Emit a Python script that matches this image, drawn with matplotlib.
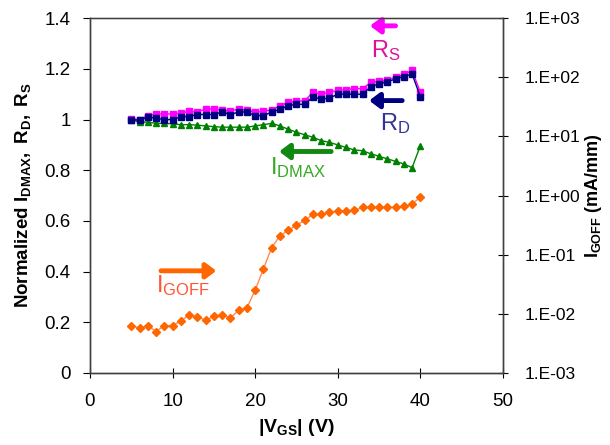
import numpy as np
import matplotlib
matplotlib.use("Agg")
import matplotlib.pyplot as plt
from matplotlib.ticker import FixedLocator, FuncFormatter, NullLocator

plt.rcParams['font.family'] = ['Liberation Sans', 'DejaVu Sans']
plt.rcParams['mathtext.fontset'] = 'custom'
plt.rcParams['mathtext.rm'] = 'Liberation Sans'
plt.rcParams['mathtext.bf'] = 'Liberation Sans:bold'
plt.rcParams['mathtext.it'] = 'Liberation Sans'

# gate voltage |VGS| (V)
vgs = list(range(5, 41))

# normalized source resistance
rs = [1.003, 1.0, 1.016, 1.022, 1.022, 1.022, 1.025, 1.033, 1.03, 1.042, 1.042, 1.038,
      1.033, 1.042, 1.038, 1.028, 1.033, 1.038, 1.055, 1.068, 1.072, 1.075, 1.108, 1.10,
      1.108, 1.115, 1.118, 1.122, 1.122, 1.147, 1.151, 1.157, 1.167, 1.178, 1.194, 1.108]
# normalized drain resistance
rd = [1.0, 0.997, 1.01, 1.005, 1.0, 1.0, 1.01, 1.012, 1.02, 1.02, 1.02, 1.03,
      1.02, 1.03, 1.03, 1.015, 1.015, 1.03, 1.04, 1.055, 1.06, 1.06, 1.09, 1.08,
      1.085, 1.10, 1.10, 1.10, 1.10, 1.13, 1.14, 1.15, 1.16, 1.17, 1.18, 1.09]
# normalized max drain current
idmax = [1.0, 0.99, 0.99, 0.985, 0.985, 0.983, 0.98, 0.98, 0.978, 0.975, 0.972, 0.97,
         0.97, 0.97, 0.97, 0.975, 0.98, 0.985, 0.975, 0.962, 0.95, 0.94, 0.93, 0.917,
         0.91, 0.90, 0.89, 0.88, 0.877, 0.865, 0.855, 0.845, 0.835, 0.825, 0.81, 0.897]
# gate off-state leakage (mA/mm), log10 values
igoff_log = [-2.20, -2.24, -2.20, -2.30, -2.20, -2.20, -2.12, -2.02, -2.05, -2.11, -2.04, -2.02,
             -2.07, -1.94, -1.90, -1.60, -1.24, -0.88, -0.68, -0.59, -0.50, -0.42, -0.32, -0.32,
             -0.28, -0.26, -0.26, -0.25, -0.20, -0.20, -0.20, -0.20, -0.20, -0.18, -0.14, -0.03]
igoff = [10 ** v for v in igoff_log]

right_ticks = [1e-3, 1e-2, 1e-1, 1e0, 1e1, 1e2, 1e3]

fig = plt.figure(figsize=(6.1, 4.45), dpi=100)
ax = fig.add_axes([0.1475, 0.162, 0.677, 0.797])
ax2 = ax.twinx()

ax.plot(vgs, rs, color='#ff00ff', marker='s', ms=4.8, lw=1, zorder=3)
ax.plot(vgs, rd, color='#000080', marker='s', ms=4.5, lw=1, zorder=4)
ax.plot(vgs, idmax, color='#008000', marker='^', ms=5, lw=1, zorder=3)
ax2.plot(vgs, igoff, color='#ff8c50', marker='D', ms=4.5, lw=1,
         markerfacecolor='#ff6600', markeredgecolor='#ff6600')

ax.set_xlim(0, 50)
ax.set_ylim(0, 1.4)
ax.set_xticks(range(0, 51, 10))
ax.set_yticks([0, 0.2, 0.4, 0.6, 0.8, 1.0, 1.2, 1.4])
ax.yaxis.set_major_formatter(FuncFormatter(lambda v, p: f"{v:g}"))
ax.tick_params(axis='x', direction='inout', length=7, labelsize=13.5, pad=11)
ax.tick_params(axis='y', direction='out', length=5, labelsize=13.5, pad=9)

ax2.set_yscale('log')
ax2.set_ylim(1e-3, 1e3)
ax2.yaxis.set_major_locator(FixedLocator(right_ticks))
ax2.yaxis.set_minor_locator(NullLocator())
ax2.yaxis.set_major_formatter(FuncFormatter(lambda v, p: f"1.E{int(round(np.log10(v))):+03d}"))
ax2.tick_params(axis='y', direction='inout', length=7, labelsize=12.5, pad=12)

for a in (ax, ax2):
    for s in a.spines.values():
        s.set_color('#404040')
        s.set_linewidth(1)
ax.spines['top'].set_color('#999999')

ax.set_xlabel(r"$\mathbf{|V_{GS}|\ (V)}$", fontsize=14, labelpad=5)
ax.set_ylabel(r"$\mathbf{Normalized\ I_{DMAX},\ R_D,\ R_S}$", fontsize=13.5, labelpad=8)
ax2.set_ylabel(r"$\mathbf{I_{GOFF}\ (mA/mm)}$", fontsize=13, labelpad=2)

arrow = dict(arrowstyle='-|>,head_length=0.6,head_width=0.45', lw=3.5, shrinkA=0, shrinkB=0)
ax.annotate('', xy=(33.9, 1.37), xytext=(37.0, 1.37),
            arrowprops=dict(arrow, color='#ff00ff'))
ax.text(34.0, 1.272, r"R$_\mathrm{S}$", color='#e0109a', fontsize=17, va='center')
ax.annotate('', xy=(33.8, 1.075), xytext=(37.8, 1.075),
            arrowprops=dict(arrow, color='#000080'))
ax.text(35.1, 0.985, r"R$_\mathrm{D}$", color='#333399', fontsize=17, va='center')
ax.annotate('', xy=(22.9, 0.874), xytext=(29.2, 0.874),
            arrowprops=dict(arrow, color='#118811'))
ax.text(21.8, 0.81, r"I$_\mathrm{DMAX}$", color='#33aa22', fontsize=17, va='center')
ax.annotate('', xy=(15.3, 0.403), xytext=(8.6, 0.403),
            arrowprops=dict(arrow, color='#ff6600'))
ax.text(8.0, 0.345, r"I$_\mathrm{GOFF}$", color='#ff5533', fontsize=17, va='center')

fig.savefig('out.png', dpi=100)
